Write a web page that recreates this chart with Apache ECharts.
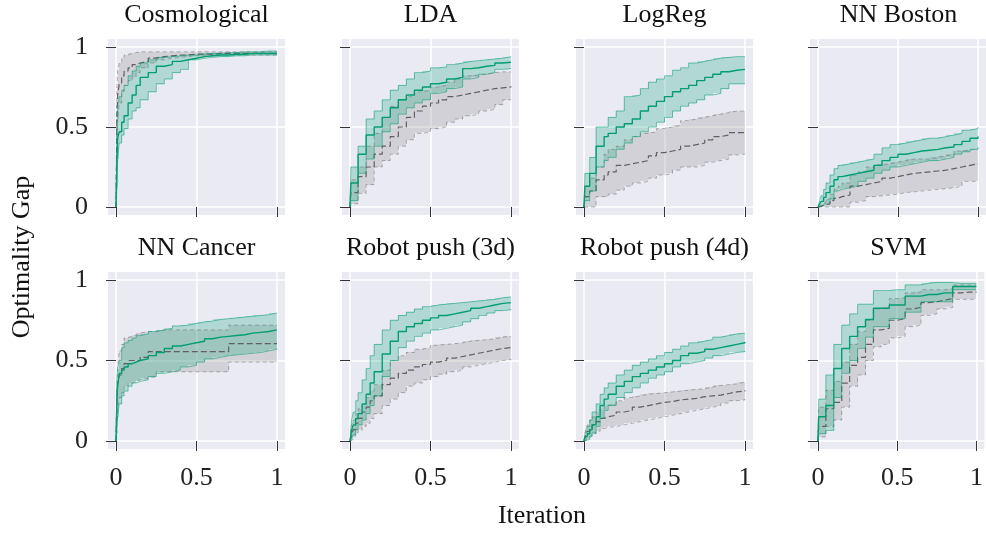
<!DOCTYPE html>
<html>
<head>
<meta charset="utf-8">
<script src="https://cdn.jsdelivr.net/npm/echarts@6/dist/echarts.min.js"></script>
<style>
html, body { margin: 0; padding: 0; background: #fff; }
#chart { width: 986px; height: 534px; }
</style>
</head>
<body>
<div id="chart"></div>
<script>
// iteration fraction where each step value starts (step "post")
var iters = [0, 0.005, 0.01, 0.02, 0.035, 0.05, 0.075, 0.1, 0.125, 0.15, 0.2, 0.25, 0.3, 0.35, 0.4, 0.45, 0.5, 0.55, 0.6, 0.65, 0.7, 0.75, 0.8, 0.85, 0.9, 0.95, 1];
var titles = ['Cosmological', 'LDA', 'LogReg', 'NN Boston', 'NN Cancer', 'Robot push (3d)', 'Robot push (4d)', 'SVM'];
var tickValues = [0, 0.5, 1];

// Cosmological
var cosmoMean = [0, 0.27, 0.43, 0.47, 0.53, 0.57, 0.65, 0.7, 0.76, 0.81, 0.84, 0.88, 0.89, 0.91, 0.92, 0.93, 0.94, 0.945, 0.95, 0.95, 0.955, 0.955, 0.96, 0.96, 0.96, 0.96, 0.96];
var cosmoLo = [0, 0.12, 0.3, 0.4, 0.45, 0.49, 0.55, 0.6, 0.62, 0.67, 0.72, 0.77, 0.8, 0.84, 0.86, 0.92, 0.93, 0.935, 0.94, 0.94, 0.945, 0.945, 0.95, 0.95, 0.95, 0.95, 0.95];
var cosmoHi = [0, 0.5, 0.62, 0.69, 0.73, 0.76, 0.82, 0.85, 0.88, 0.9, 0.92, 0.935, 0.94, 0.945, 0.95, 0.95, 0.955, 0.96, 0.96, 0.965, 0.965, 0.97, 0.97, 0.97, 0.975, 0.975, 0.975];
var cosmoBaseMean = [0, 0.55, 0.7, 0.77, 0.82, 0.85, 0.87, 0.89, 0.9, 0.91, 0.93, 0.94, 0.945, 0.95, 0.95, 0.955, 0.955, 0.955, 0.96, 0.96, 0.96, 0.96, 0.96, 0.96, 0.96, 0.96, 0.96];
var cosmoBaseLo = [0, 0.35, 0.55, 0.65, 0.72, 0.76, 0.79, 0.81, 0.84, 0.87, 0.9, 0.92, 0.93, 0.935, 0.94, 0.945, 0.945, 0.95, 0.95, 0.95, 0.95, 0.95, 0.95, 0.95, 0.95, 0.95, 0.95];
var cosmoBaseHi = [0, 0.75, 0.85, 0.9, 0.93, 0.95, 0.96, 0.965, 0.97, 0.97, 0.97, 0.97, 0.97, 0.97, 0.97, 0.97, 0.97, 0.97, 0.97, 0.97, 0.97, 0.97, 0.97, 0.97, 0.97, 0.97, 0.97];

// LDA
var ldaMean = [0, 0.15, 0.15, 0.15, 0.15, 0.33, 0.33, 0.45, 0.45, 0.5, 0.56, 0.62, 0.67, 0.7, 0.73, 0.75, 0.77, 0.78, 0.8, 0.81, 0.865, 0.87, 0.88, 0.885, 0.9, 0.905, 0.905];
var ldaLo = [0, 0.04, 0.04, 0.04, 0.04, 0.21, 0.21, 0.3, 0.3, 0.38, 0.47, 0.52, 0.58, 0.62, 0.65, 0.67, 0.71, 0.72, 0.74, 0.75, 0.8, 0.81, 0.83, 0.84, 0.86, 0.865, 0.865];
var ldaHi = [0, 0.25, 0.25, 0.25, 0.25, 0.38, 0.38, 0.55, 0.55, 0.6, 0.67, 0.73, 0.76, 0.8, 0.84, 0.85, 0.87, 0.875, 0.89, 0.9, 0.91, 0.915, 0.92, 0.925, 0.93, 0.94, 0.94];
var ldaBaseMean = [0, 0.09, 0.09, 0.09, 0.09, 0.19, 0.19, 0.25, 0.25, 0.33, 0.38, 0.44, 0.5, 0.56, 0.6, 0.63, 0.65, 0.67, 0.69, 0.7, 0.71, 0.72, 0.73, 0.74, 0.745, 0.75, 0.755];
var ldaBaseLo = [0, 0.02, 0.02, 0.02, 0.02, 0.085, 0.085, 0.14, 0.14, 0.25, 0.29, 0.33, 0.38, 0.42, 0.46, 0.47, 0.49, 0.5, 0.53, 0.55, 0.57, 0.58, 0.6, 0.61, 0.64, 0.67, 0.67];
var ldaBaseHi = [0, 0.17, 0.17, 0.17, 0.17, 0.25, 0.25, 0.38, 0.38, 0.46, 0.56, 0.63, 0.67, 0.69, 0.72, 0.73, 0.75, 0.76, 0.78, 0.8, 0.82, 0.825, 0.83, 0.84, 0.845, 0.845, 0.845];

// LogReg
var lrMean = [0, 0.13, 0.13, 0.13, 0.21, 0.21, 0.38, 0.38, 0.44, 0.46, 0.5, 0.52, 0.55, 0.6, 0.63, 0.66, 0.69, 0.72, 0.74, 0.76, 0.79, 0.81, 0.83, 0.845, 0.855, 0.86, 0.86];
var lrLo = [0, 0.04, 0.04, 0.04, 0.1, 0.1, 0.25, 0.25, 0.29, 0.31, 0.36, 0.4, 0.44, 0.47, 0.5, 0.53, 0.56, 0.6, 0.63, 0.65, 0.67, 0.7, 0.71, 0.74, 0.77, 0.77, 0.77];
var lrHi = [0, 0.21, 0.21, 0.21, 0.31, 0.31, 0.5, 0.5, 0.5, 0.56, 0.6, 0.69, 0.7, 0.74, 0.78, 0.8, 0.82, 0.855, 0.87, 0.9, 0.91, 0.92, 0.93, 0.935, 0.94, 0.94, 0.94];
var lrBaseMean = [0, 0.065, 0.065, 0.065, 0.1, 0.1, 0.17, 0.17, 0.2, 0.22, 0.26, 0.27, 0.28, 0.29, 0.32, 0.34, 0.35, 0.36, 0.38, 0.39, 0.4, 0.42, 0.44, 0.45, 0.465, 0.465, 0.465];
var lrBaseLo = [0, 0, 0, 0, 0, 0, 0.065, 0.065, 0.065, 0.08, 0.105, 0.13, 0.15, 0.16, 0.18, 0.2, 0.21, 0.23, 0.25, 0.25, 0.26, 0.28, 0.29, 0.3, 0.325, 0.33, 0.33];
var lrBaseHi = [0, 0.13, 0.13, 0.13, 0.18, 0.18, 0.25, 0.25, 0.33, 0.36, 0.38, 0.42, 0.44, 0.46, 0.47, 0.49, 0.5, 0.51, 0.54, 0.55, 0.56, 0.57, 0.58, 0.59, 0.6, 0.6, 0.6];

// NN Boston
var bosMean = [0, 0.01, 0.02, 0.035, 0.06, 0.09, 0.13, 0.17, 0.19, 0.2, 0.21, 0.22, 0.23, 0.26, 0.29, 0.31, 0.33, 0.34, 0.35, 0.355, 0.36, 0.37, 0.375, 0.39, 0.41, 0.43, 0.44];
var bosLo = [0, 0, 0.005, 0.01, 0.02, 0.03, 0.05, 0.1, 0.11, 0.12, 0.13, 0.16, 0.18, 0.21, 0.23, 0.25, 0.26, 0.27, 0.28, 0.29, 0.29, 0.3, 0.31, 0.33, 0.345, 0.36, 0.375];
var bosHi = [0, 0.02, 0.04, 0.07, 0.11, 0.15, 0.2, 0.24, 0.26, 0.27, 0.28, 0.29, 0.3, 0.33, 0.37, 0.39, 0.4, 0.41, 0.42, 0.43, 0.43, 0.44, 0.45, 0.46, 0.48, 0.49, 0.5];
var bosBaseMean = [0, 0, 0.005, 0.01, 0.015, 0.02, 0.04, 0.055, 0.065, 0.075, 0.13, 0.14, 0.15, 0.16, 0.18, 0.19, 0.2, 0.21, 0.215, 0.22, 0.225, 0.23, 0.24, 0.25, 0.26, 0.27, 0.27];
var bosBaseLo = [0, 0, 0, 0, 0, 0, 0, 0, 0, 0, 0.03, 0.04, 0.065, 0.07, 0.075, 0.08, 0.09, 0.095, 0.1, 0.105, 0.11, 0.115, 0.12, 0.13, 0.16, 0.16, 0.16];
var bosBaseHi = [0, 0.005, 0.01, 0.02, 0.03, 0.05, 0.08, 0.115, 0.13, 0.15, 0.2, 0.22, 0.25, 0.265, 0.27, 0.28, 0.29, 0.3, 0.3, 0.3, 0.31, 0.32, 0.33, 0.35, 0.355, 0.365, 0.365];

// NN Cancer
var canMean = [0, 0.24, 0.35, 0.42, 0.44, 0.46, 0.48, 0.49, 0.5, 0.51, 0.53, 0.55, 0.575, 0.59, 0.6, 0.61, 0.62, 0.635, 0.645, 0.65, 0.655, 0.66, 0.67, 0.675, 0.68, 0.69, 0.69];
var canLo = [0, 0.11, 0.15, 0.23, 0.28, 0.31, 0.34, 0.36, 0.37, 0.38, 0.4, 0.42, 0.43, 0.44, 0.46, 0.47, 0.49, 0.51, 0.52, 0.53, 0.535, 0.54, 0.545, 0.55, 0.56, 0.57, 0.575];
var canHi = [0, 0.38, 0.45, 0.5, 0.58, 0.61, 0.625, 0.64, 0.655, 0.665, 0.68, 0.69, 0.7, 0.715, 0.72, 0.73, 0.74, 0.745, 0.755, 0.76, 0.765, 0.77, 0.775, 0.78, 0.785, 0.795, 0.795];
var canBaseMean = [0, 0.27, 0.35, 0.41, 0.45, 0.48, 0.5, 0.5, 0.5, 0.52, 0.555, 0.555, 0.555, 0.555, 0.555, 0.555, 0.555, 0.555, 0.555, 0.555, 0.605, 0.605, 0.605, 0.605, 0.605, 0.605, 0.605];
var canBaseLo = [0, 0.05, 0.2, 0.27, 0.3, 0.34, 0.36, 0.37, 0.38, 0.39, 0.4, 0.43, 0.43, 0.43, 0.43, 0.43, 0.43, 0.43, 0.43, 0.43, 0.49, 0.49, 0.49, 0.49, 0.49, 0.49, 0.49];
var canBaseHi = [0, 0.3, 0.45, 0.56, 0.6, 0.64, 0.65, 0.66, 0.67, 0.68, 0.68, 0.69, 0.69, 0.69, 0.69, 0.69, 0.69, 0.69, 0.69, 0.69, 0.72, 0.72, 0.72, 0.72, 0.72, 0.72, 0.72];

// Robot push (3d)
var r3Mean = [0, 0.03, 0.07, 0.1, 0.14, 0.17, 0.23, 0.29, 0.36, 0.43, 0.54, 0.62, 0.68, 0.71, 0.73, 0.75, 0.765, 0.78, 0.79, 0.8, 0.81, 0.825, 0.835, 0.845, 0.855, 0.86, 0.86];
var r3Lo = [0, 0, 0.02, 0.04, 0.07, 0.1, 0.13, 0.17, 0.22, 0.28, 0.4, 0.5, 0.58, 0.62, 0.65, 0.67, 0.69, 0.7, 0.71, 0.72, 0.74, 0.76, 0.78, 0.795, 0.81, 0.815, 0.82];
var r3Hi = [0, 0.08, 0.13, 0.18, 0.25, 0.3, 0.38, 0.45, 0.53, 0.6, 0.69, 0.75, 0.78, 0.8, 0.82, 0.835, 0.845, 0.85, 0.855, 0.86, 0.865, 0.87, 0.875, 0.88, 0.89, 0.895, 0.895];
var r3BaseMean = [0, 0.02, 0.045, 0.07, 0.11, 0.14, 0.18, 0.21, 0.25, 0.28, 0.35, 0.39, 0.42, 0.44, 0.46, 0.475, 0.49, 0.5, 0.515, 0.525, 0.535, 0.545, 0.555, 0.565, 0.575, 0.58, 0.585];
var r3BaseLo = [0, 0, 0.01, 0.03, 0.05, 0.065, 0.09, 0.11, 0.14, 0.17, 0.22, 0.26, 0.3, 0.34, 0.36, 0.38, 0.4, 0.415, 0.43, 0.44, 0.46, 0.47, 0.48, 0.49, 0.5, 0.505, 0.51];
var r3BaseHi = [0, 0.05, 0.1, 0.13, 0.17, 0.2, 0.23, 0.27, 0.31, 0.35, 0.44, 0.5, 0.53, 0.55, 0.57, 0.58, 0.595, 0.6, 0.605, 0.61, 0.62, 0.625, 0.63, 0.635, 0.645, 0.65, 0.65];

// Robot push (4d)
var r4Mean = [0, 0.02, 0.03, 0.045, 0.07, 0.1, 0.15, 0.22, 0.26, 0.29, 0.34, 0.37, 0.4, 0.42, 0.44, 0.46, 0.48, 0.5, 0.53, 0.545, 0.555, 0.57, 0.58, 0.59, 0.6, 0.61, 0.615];
var r4Lo = [0, 0, 0.005, 0.01, 0.03, 0.05, 0.09, 0.14, 0.19, 0.22, 0.27, 0.3, 0.33, 0.36, 0.39, 0.41, 0.43, 0.46, 0.48, 0.49, 0.5, 0.515, 0.53, 0.54, 0.55, 0.555, 0.56];
var r4Hi = [0, 0.04, 0.06, 0.09, 0.13, 0.18, 0.23, 0.29, 0.33, 0.36, 0.41, 0.44, 0.47, 0.49, 0.51, 0.53, 0.55, 0.57, 0.59, 0.61, 0.62, 0.63, 0.645, 0.655, 0.665, 0.67, 0.67];
var r4BaseMean = [0, 0.02, 0.04, 0.06, 0.08, 0.1, 0.12, 0.14, 0.15, 0.16, 0.18, 0.19, 0.21, 0.22, 0.23, 0.24, 0.245, 0.255, 0.26, 0.265, 0.275, 0.28, 0.285, 0.295, 0.305, 0.31, 0.315];
var r4BaseLo = [0, 0, 0.01, 0.02, 0.03, 0.045, 0.06, 0.077, 0.085, 0.09, 0.1, 0.11, 0.12, 0.13, 0.14, 0.15, 0.16, 0.17, 0.18, 0.19, 0.2, 0.21, 0.22, 0.235, 0.25, 0.255, 0.26];
var r4BaseHi = [0, 0.04, 0.07, 0.1, 0.13, 0.15, 0.18, 0.2, 0.22, 0.23, 0.25, 0.27, 0.28, 0.29, 0.295, 0.3, 0.305, 0.31, 0.315, 0.32, 0.325, 0.335, 0.345, 0.35, 0.355, 0.365, 0.37];

// SVM
var svmMean = [0, 0.15, 0.15, 0.15, 0.15, 0.22, 0.22, 0.45, 0.45, 0.575, 0.65, 0.71, 0.755, 0.825, 0.825, 0.845, 0.845, 0.9, 0.9, 0.91, 0.91, 0.92, 0.92, 0.96, 0.96, 0.96, 0.96];
var svmLo = [0, 0.045, 0.045, 0.045, 0.045, 0.065, 0.065, 0.27, 0.27, 0.42, 0.5, 0.575, 0.645, 0.71, 0.71, 0.76, 0.76, 0.8, 0.8, 0.865, 0.865, 0.865, 0.865, 0.94, 0.94, 0.94, 0.94];
var svmHi = [0, 0.26, 0.26, 0.26, 0.26, 0.41, 0.41, 0.6, 0.6, 0.72, 0.79, 0.85, 0.85, 0.935, 0.935, 0.94, 0.94, 0.97, 0.97, 0.98, 0.985, 0.985, 0.985, 0.98, 0.98, 0.98, 0.98];
var svmBaseMean = [0, 0.09, 0.09, 0.09, 0.09, 0.2, 0.2, 0.24, 0.24, 0.36, 0.47, 0.52, 0.6, 0.69, 0.7, 0.75, 0.76, 0.82, 0.83, 0.86, 0.865, 0.875, 0.885, 0.92, 0.925, 0.925, 0.925];
var svmBaseLo = [0, 0.025, 0.025, 0.025, 0.025, 0.09, 0.09, 0.13, 0.13, 0.21, 0.34, 0.41, 0.5, 0.585, 0.6, 0.64, 0.65, 0.71, 0.72, 0.78, 0.79, 0.82, 0.83, 0.88, 0.88, 0.88, 0.88];
var svmBaseHi = [0, 0.21, 0.21, 0.21, 0.21, 0.315, 0.315, 0.37, 0.37, 0.49, 0.6, 0.68, 0.75, 0.82, 0.83, 0.885, 0.89, 0.92, 0.925, 0.94, 0.94, 0.94, 0.945, 0.97, 0.97, 0.97, 0.97];

var panels = [
    { mean: cosmoMean, lo: cosmoLo, hi: cosmoHi, bMean: cosmoBaseMean, bLo: cosmoBaseLo, bHi: cosmoBaseHi },
    { mean: ldaMean, lo: ldaLo, hi: ldaHi, bMean: ldaBaseMean, bLo: ldaBaseLo, bHi: ldaBaseHi },
    { mean: lrMean, lo: lrLo, hi: lrHi, bMean: lrBaseMean, bLo: lrBaseLo, bHi: lrBaseHi },
    { mean: bosMean, lo: bosLo, hi: bosHi, bMean: bosBaseMean, bLo: bosBaseLo, bHi: bosBaseHi },
    { mean: canMean, lo: canLo, hi: canHi, bMean: canBaseMean, bLo: canBaseLo, bHi: canBaseHi },
    { mean: r3Mean, lo: r3Lo, hi: r3Hi, bMean: r3BaseMean, bLo: r3BaseLo, bHi: r3BaseHi },
    { mean: r4Mean, lo: r4Lo, hi: r4Hi, bMean: r4BaseMean, bLo: r4BaseLo, bHi: r4BaseHi },
    { mean: svmMean, lo: svmLo, hi: svmHi, bMean: svmBaseMean, bLo: svmBaseLo, bHi: svmBaseHi }
];

var font = '"Liberation Serif", "DejaVu Serif", serif';
var green = '#029e73';
var colLeft = [108, 342, 576, 810];
var rowTop = [39, 272];
var rowHeight = [176, 177];

function pairs(ys) {
    return ys.map(function (y, i) { return [iters[i], y]; });
}

// band fill: one rect per step, [x, lo, hi, nextX]
function bandSeries(k, lo, hi, fill) {
    var data = iters.map(function (x, i) {
        return [x, lo[i], hi[i], i + 1 < iters.length ? iters[i + 1] : x];
    });
    return {
        type: 'custom', xAxisIndex: k, yAxisIndex: k, silent: true,
        encode: { x: [0, 3], y: [1, 2] },
        data: data,
        renderItem: function (params, api) {
            var x0 = api.value(0), x1 = api.value(3);
            if (x1 <= x0) return null;
            var a = api.coord([x0, api.value(2)]);
            var b = api.coord([x1, api.value(1)]);
            var left = Math.round(a[0]), right = Math.round(b[0]);
            var top = Math.round(a[1]), bottom = Math.round(b[1]);
            if (bottom - top <= 0) return null;
            return { type: 'rect', shape: { x: left, y: top, width: right - left, height: bottom - top },
                style: { fill: fill } };
        }
    };
}

function lineSeries(k, ys, style) {
    return { type: 'line', xAxisIndex: k, yAxisIndex: k, step: 'end', showSymbol: false,
        silent: true, data: pairs(ys), lineStyle: style };
}

var grids = [], xAxes = [], yAxes = [], series = [], titleList = [];

panels.forEach(function (p, k) {
    var row = Math.floor(k / 4), col = k % 4;
    grids.push({ left: colLeft[col], top: rowTop[row], width: 177, height: rowHeight[row],
        show: true, backgroundColor: '#eaeaf2', borderWidth: 0 });
    var axisCommon = {
        type: 'value', gridIndex: k, min: -0.05, max: 1.05, offset: 1,
        axisLine: { show: false },
        axisTick: { show: true, length: 10, customValues: tickValues, lineStyle: { color: '#333', width: 1 } },
        splitLine: { show: true, lineStyle: { color: '#ffffff', width: 1.5 } }
    };
    xAxes.push(Object.assign({}, axisCommon, {
        axisLabel: { show: row === 1, customValues: tickValues, margin: 15, fontFamily: font, fontSize: 26, color: '#222' }
    }));
    yAxes.push(Object.assign({}, axisCommon, {
        axisLabel: { show: col === 0, customValues: tickValues, margin: 19, fontFamily: font, fontSize: 26, color: '#222' }
    }));
    titleList.push({ text: titles[k], left: colLeft[col] + 88.5, top: row === 0 ? 2 : 235, textAlign: 'center',
        padding: 0, textStyle: { fontFamily: font, fontSize: 26, fontWeight: 'normal', color: '#111' } });

    var greyEdge = { color: 'rgba(110,110,110,0.5)', width: 1, type: [4, 3] };
    var greenEdge = { color: 'rgba(2,158,115,0.55)', width: 1 };
    // baseline method: grey, dashed
    series.push(bandSeries(k, p.bLo, p.bHi, 'rgba(128,128,128,0.24)'));
    series.push(lineSeries(k, p.bLo, greyEdge));
    series.push(lineSeries(k, p.bHi, greyEdge));
    series.push(lineSeries(k, p.bMean, { color: '#606060', width: 1.2, type: [6, 3] }));
    // proposed method: green, solid
    series.push(bandSeries(k, p.lo, p.hi, 'rgba(2,158,115,0.24)'));
    series.push(lineSeries(k, p.lo, greenEdge));
    series.push(lineSeries(k, p.hi, greenEdge));
    series.push(lineSeries(k, p.mean, { color: green, width: 1.4 }));
});

var chart = echarts.init(document.getElementById('chart'));
chart.setOption({
    animation: false,
    backgroundColor: '#ffffff',
    title: titleList,
    grid: grids,
    xAxis: xAxes,
    yAxis: yAxes,
    series: series,
    graphic: [
        { type: 'text', x: 22, y: 257, rotation: Math.PI / 2,
          style: { text: 'Optimality Gap', fontFamily: font, fontSize: 26, fill: '#111', textAlign: 'center', textVerticalAlign: 'middle' } },
        { type: 'text', x: 542, y: 516,
          style: { text: 'Iteration', fontFamily: font, fontSize: 26, fill: '#111', textAlign: 'center', textVerticalAlign: 'middle' } }
    ]
});
</script>
</body>
</html>
